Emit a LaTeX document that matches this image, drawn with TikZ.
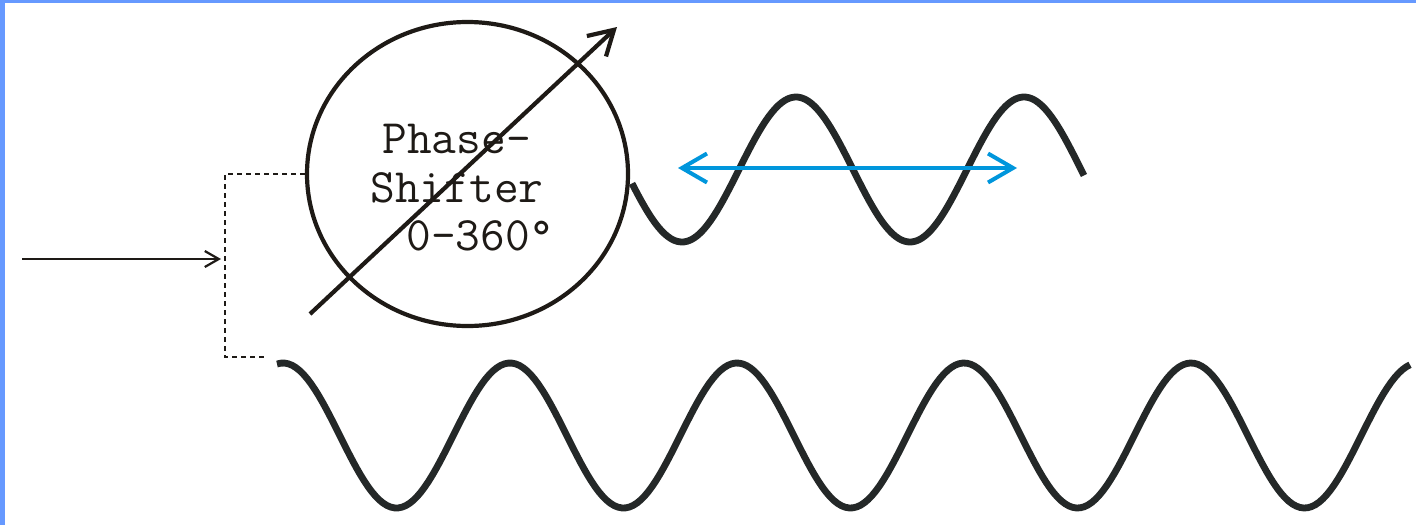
\documentclass[tikz,border=0pt]{standalone}
\usepackage{fontspec}
\usetikzlibrary{arrows.meta,shapes.geometric}
\definecolor{frameblue}{RGB}{102,153,255}
\definecolor{arrowblue}{RGB}{0,150,220}
\definecolor{wavegray}{RGB}{36,40,40}
\definecolor{inkblack}{RGB}{30,26,22}
\tikzset{
  wave/.style={draw=wavegray, line width=3.4pt},
  lbl/.style={font=\ttfamily\fontsize{24}{26}\selectfont, inner sep=0pt, anchor=base west, text=inkblack},
  bracketline/.style={draw=inkblack, line width=1.3pt, dash pattern=on 2.5pt off 2pt},
}
\begin{document}
\begin{tikzpicture}[x=0.5pt,y=-0.5pt]
\useasboundingbox (0,0) rectangle (1416,525);
\fill[white] (0,0) rectangle (1416,525);
\fill[frameblue] (0,0) rectangle (5,525);
\fill[frameblue] (0,0) rectangle (1416,3);

% phase shifter circle
\node[draw=inkblack, line width=2.1pt, ellipse, minimum width=160.5pt, minimum height=152pt, inner sep=0pt] (ps) at (467.5,174) {};

% labels
\node[lbl] (t1) at (382,153) {Phase-};
\node[lbl] (t2) at (370,202) {Shifter};
\node[lbl] (t3) at (406,250) {0-360°};

% diagonal arrow
\coordinate (d0) at (310,314);
\coordinate (d1) at (617,27);
\draw[inkblack, line width=2.1pt, -{Straight Barb[length=12pt,width=14pt]}] (d0) -- (d1);

% input arrow and dotted bracket
\coordinate (in0) at (22,259);
\coordinate (bt) at (225,174);
\coordinate (bb) at (225,357);
\coordinate (be) at (268,357);
\coordinate (bm) at (225,259);
\draw[inkblack, line width=1.1pt, -{Straight Barb[length=7pt,width=8pt]}] (in0) -- ([xshift=-2pt]bm);
\draw[bracketline] (ps.west) -- (bt) -- (bb) -- (be);

% waves
\draw[wave] plot[domain=632:1084, samples=140] (\x,{169.5-72.5*cos((\x-796)/228*360)});
\draw[wave] plot[domain=277:1410, samples=300] (\x,{435.5-72.5*cos((\x-283)/227*360)});

% blue double arrow
\coordinate (b0) at (678,168);
\coordinate (b1) at (1017,168);
\draw[arrowblue, line width=2pt, {Straight Barb[length=12.5pt,width=14.5pt]}-{Straight Barb[length=12.5pt,width=14.5pt]}] (b0) -- (b1);
\end{tikzpicture}
\end{document}
